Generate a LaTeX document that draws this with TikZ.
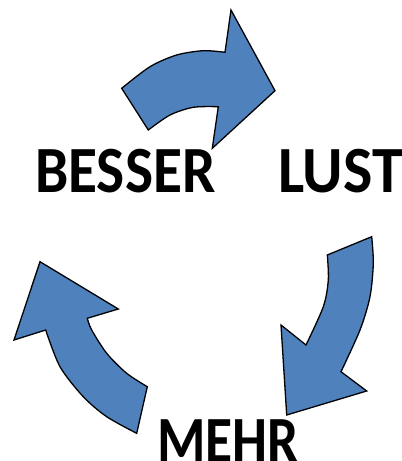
\documentclass[tikz,border=0pt]{standalone}
\usepackage{fontspec}
\setmainfont{Carlito}
\definecolor{arrowblue}{HTML}{4F81BD}
\tikzset{
  bluearrow/.style={fill=arrowblue, draw=black, line width=1.3pt, line join=miter},
  word/.style={font=\bfseries\fontsize{66}{66}\selectfont, inner sep=0pt, anchor=base west}
}
\begin{document}
\begin{tikzpicture}[x=1pt,y=-1pt]
\useasboundingbox (0,0) rectangle (402,461);
% top arrow
\draw[bluearrow] plot[smooth] coordinates {(121.7,88.3) (150,66.7) (176.7,55) (203.3,50.7) (225,52.3)}
  -- (231,10) -- (275,90.7) -- (212.3,148.3) -- (218.3,106.7)
  -- plot[smooth] coordinates {(218.3,106.7) (193.3,107.3) (170,115) (148.3,130)} -- cycle;
% right arrow
\draw[bluearrow] (371.7,236.7) -- (327.3,255)
  -- plot[smooth] coordinates {(327.3,255) (328.3,280) (323.3,306.7) (306,345)}
  -- (281,325) -- (286.7,415) -- (366.7,391) -- (341,371.7)
  -- plot[smooth] coordinates {(341,371.7) (360,330) (370,296.7) (373.3,263.3) (371.7,236.7)} -- cycle;
% left arrow
\draw[bluearrow] (40,261.7) -- (118.3,309) -- (87.3,318.3)
  -- plot[smooth] coordinates {(87.3,318.3) (91.7,330) (106.7,353.3) (126.7,373.3) (147.3,386.7)}
  -- (136.7,433.3)
  -- plot[smooth] coordinates {(136.7,433.3) (106.7,416.7) (83.3,396.7) (60,366.7) (45.7,330)}
  -- (14,340) -- cycle;
% words
\node[word] (besser) at (35,192) {\scalebox{0.9}[1]{BESSER}};
\node[word] (lust) at (278,192) {\scalebox{0.94}[1]{LUST}};
\node[word] (mehr) at (157,462.5) {\scalebox{0.84}[1]{MEHR}};
\end{tikzpicture}
\end{document}
